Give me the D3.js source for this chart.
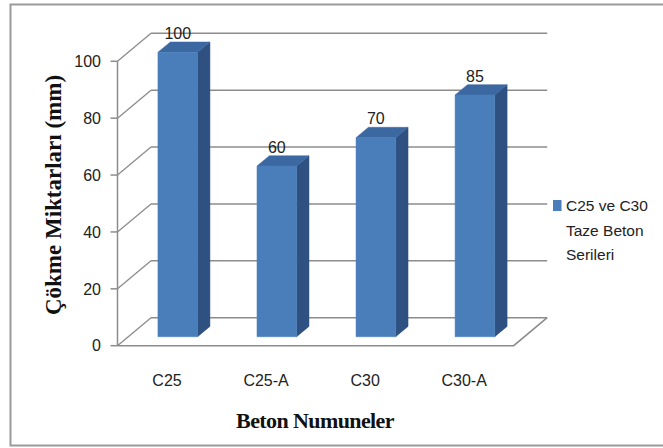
<!DOCTYPE html>
<html>
<head>
<meta charset="utf-8">
<script src="https://cdn.jsdelivr.net/npm/d3@7"></script>
<style>
  html, body { margin: 0; padding: 0; background: #ffffff; }
  svg { display: block; }
</style>
</head>
<body>
<svg id="chart" width="663" height="448"></svg>
<script>
// ---- data ----
const categories = ["C25", "C25-A", "C30", "C30-A"];
const values = [100, 60, 70, 85];
const yTicks = [0, 20, 40, 60, 80, 100];
const seriesName = ["C25 ve C30", "Taze Beton", "Serileri"];
const yTitle = "Çökme Miktarları (mm)";
const xTitle = "Beton Numuneler";

// ---- layout ----
const svg = d3.select("#chart");
const W = 663, H = 448;
const plotLeft = 117.5, plotRight = 513.7;
const baseY = 345.7, topY = 61.3;
const depthX = 33.5, depthY = -28;     // full depth offset
const zFront = 0.32, zBack = 0.69;     // bar depth positions

const x = d3.scaleBand().domain(categories).range([plotLeft, plotRight]).paddingInner(0).paddingOuter(0);
const y = d3.scaleLinear().domain([0, 100]).range([baseY, topY]);
const barW = x.bandwidth() * 0.4;

// projection: (screen x at front, value, depth z) -> [px, py]
const P = (sx, v, z) => [sx + depthX * z, y(v) + depthY * z];

// border
svg.append("rect").attr("x", 10.5).attr("y", 4.5).attr("width", 660).attr("height", 441)
  .attr("fill", "#ffffff").attr("stroke", "#9a9a9a").attr("stroke-width", 2);

const gridColor = "#8c8c8c";
const g = svg.append("g");

// back wall gridlines + left wall diagonals
yTicks.forEach(v => {
  const a = P(plotLeft, v, 0), b = P(plotLeft, v, 1), c = P(plotRight, v, 1);
  g.append("line").attr("x1", b[0]).attr("y1", b[1]).attr("x2", c[0]).attr("y2", c[1])
    .attr("stroke", gridColor).attr("stroke-width", 1.6);
  g.append("line").attr("x1", a[0]).attr("y1", a[1]).attr("x2", b[0]).attr("y2", b[1])
    .attr("stroke", gridColor).attr("stroke-width", 1.3);
});
// floor front and right edge
{
  const a = P(plotLeft, 0, 0), b = P(plotRight, 0, 0), c = P(plotRight, 0, 1);
  g.append("polyline").attr("points", [a, b, c].map(p => p.join(",")).join(" "))
    .attr("fill", "none").attr("stroke", gridColor).attr("stroke-width", 1.6);
}
// front vertical axis line
g.append("line").attr("x1", plotLeft).attr("y1", y(0)).attr("x2", plotLeft).attr("y2", y(100))
  .attr("stroke", gridColor).attr("stroke-width", 1.5);

// y ticks and labels
yTicks.forEach(v => {
  g.append("line").attr("x1", plotLeft - 7).attr("x2", plotLeft).attr("y1", y(v)).attr("y2", y(v))
    .attr("stroke", gridColor).attr("stroke-width", 1.5);
  g.append("text").attr("x", 101).attr("y", y(v)).attr("dy", "0.36em")
    .attr("text-anchor", "end").attr("font-family", "Liberation Sans, Arial, sans-serif")
    .attr("font-size", 16).attr("fill", "#222").text(v);
});

// bars
const cFront = "#4a7ebb", cSide = "#2f5181", cTop = "#3c68a2";
categories.forEach((cat, i) => {
  const v = values[i];
  const cx = x(cat) + x.bandwidth() / 2;
  const x0 = cx - barW / 2, x1 = cx + barW / 2;
  const fbl = P(x0, 0, zFront), fbr = P(x1, 0, zFront), ftl = P(x0, v, zFront), ftr = P(x1, v, zFront);
  const bbr = P(x1, 0, zBack), btl = P(x0, v, zBack), btr = P(x1, v, zBack);
  const poly = (pts, fill) => g.append("polygon").attr("points", pts.map(p => p.join(",")).join(" "))
    .attr("fill", fill).attr("stroke", fill).attr("stroke-width", 0.5).attr("stroke-linejoin", "round");
  poly([fbr, bbr, btr, ftr], cSide);
  poly([ftl, ftr, btr, btl], cTop);
  poly([fbl, fbr, ftr, ftl], cFront);
  // value label
  g.append("text").attr("x", (ftl[0] + ftr[0]) / 2).attr("y", btl[1] - 3)
    .attr("text-anchor", "middle").attr("font-family", "Liberation Sans, Arial, sans-serif")
    .attr("font-size", 16).attr("fill", "#222").text(v);
  // category label
  g.append("text").attr("x", cx).attr("y", 386)
    .attr("text-anchor", "middle").attr("font-family", "Liberation Sans, Arial, sans-serif")
    .attr("font-size", 16).attr("fill", "#222").text(cat);
});

// axis titles
svg.append("text").attr("transform", "translate(61,195) rotate(-90)")
  .attr("text-anchor", "middle").attr("font-family", "Liberation Serif, Times New Roman, serif")
  .attr("font-weight", "bold").attr("font-size", 23).attr("fill", "#111").text(yTitle);
svg.append("text").attr("x", 315).attr("y", 428)
  .attr("text-anchor", "middle").attr("font-family", "Liberation Serif, Times New Roman, serif")
  .attr("font-weight", "bold").attr("font-size", 22).attr("letter-spacing", -0.6).attr("fill", "#111").text(xTitle);

// legend
svg.append("rect").attr("x", 553).attr("y", 200).attr("width", 8.5).attr("height", 11).attr("fill", cFront);
seriesName.forEach((t, i) => {
  svg.append("text").attr("x", 566).attr("y", 211 + i * 24.5)
    .attr("font-family", "Liberation Sans, Arial, sans-serif").attr("font-size", 15.5)
    .attr("fill", "#222").text(t);
});
</script>
</body>
</html>
